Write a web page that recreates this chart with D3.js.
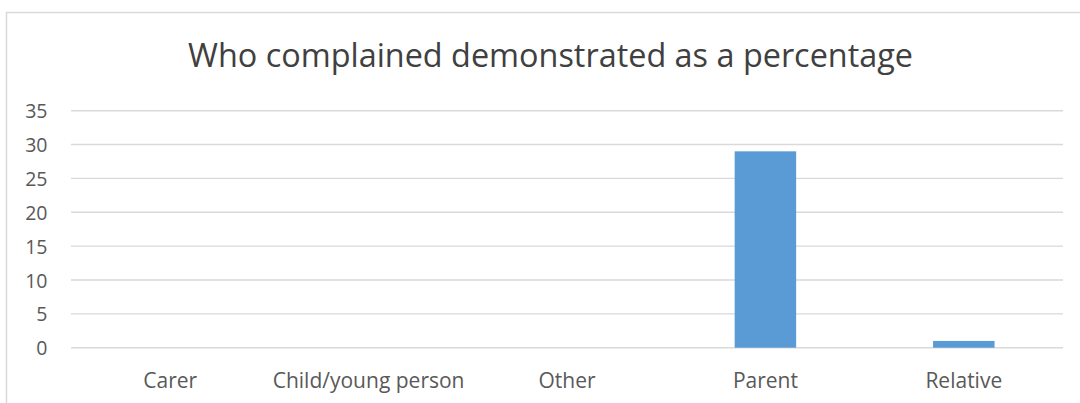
<!DOCTYPE html>
<html>
<head>
<meta charset="utf-8">
<script src="https://cdn.jsdelivr.net/npm/d3@7"></script>
<style>
  html, body { margin: 0; padding: 0; background: #fff; }
  svg { display: block; }
  text { font-family: "Open Sans", "Noto Sans", sans-serif; }
</style>
</head>
<body>
<svg id="chart" width="1080" height="403"></svg>
<script>
// Complainant groups and their share of complaints (%)
const categories = ["Carer", "Child/young person", "Other", "Parent", "Relative"];
const percentages = [0, 0, 0, 29, 1];
const yTicks = [0, 5, 10, 15, 20, 25, 30, 35];
const chartTitle = "Who complained demonstrated as a percentage";

const width = 1080, height = 403;
const plot = { left: 71, right: 1063, top: 110.7, bottom: 347.7 };

const svg = d3.select("#chart");

// chart area frame (left and top edges visible)
svg.append("path")
  .attr("d", `M6.5,${height} V12.5 H${width}`)
  .attr("fill", "none")
  .attr("stroke", "#d9d9d9")
  .attr("stroke-width", 1.5);

const x = d3.scaleBand()
  .domain(categories)
  .range([plot.left, plot.right])
  .paddingInner(0.69)
  .paddingOuter(0.345);

const y = d3.scaleLinear()
  .domain([0, 35])
  .range([plot.bottom, plot.top]);

// horizontal gridlines
svg.append("g")
  .selectAll("line")
  .data(yTicks)
  .join("line")
  .attr("x1", plot.left)
  .attr("x2", plot.right)
  .attr("y1", d => y(d))
  .attr("y2", d => y(d))
  .attr("stroke", "#d9d9d9")
  .attr("stroke-width", 1.4);

// y axis labels
const yAxis = d3.axisLeft(y).tickValues(yTicks).tickSize(0).tickPadding(0);
const gy = svg.append("g")
  .attr("transform", "translate(47.5,0)")
  .call(yAxis);
gy.select(".domain").remove();
gy.selectAll("text")
  .attr("fill", "#595959")
  .attr("font-size", 19.5)
  .attr("font-family", "'Open Sans', sans-serif")
  .attr("dy", "0.36em");

// bars
svg.append("g")
  .selectAll("rect")
  .data(categories.map((c, i) => ({ c, v: percentages[i] })).filter(d => d.v > 0))
  .join("rect")
  .attr("x", d => x(d.c))
  .attr("width", x.bandwidth())
  .attr("y", d => y(d.v))
  .attr("height", d => y(0) - y(d.v))
  .attr("fill", "#5b9bd5");

// category labels
const xAxis = d3.axisBottom(x).tickSize(0).tickPadding(0);
const gx = svg.append("g")
  .attr("transform", "translate(0,388)")
  .call(xAxis);
gx.select(".domain").remove();
gx.selectAll("text")
  .attr("fill", "#595959")
  .attr("font-size", 21)
  .attr("font-family", "'Open Sans', sans-serif")
  .attr("dy", 0);

// title
svg.append("text")
  .attr("x", 550.5)
  .attr("y", 67)
  .attr("text-anchor", "middle")
  .attr("font-size", 32.4)
  .attr("fill", "#404040")
  .text(chartTitle);
</script>
</body>
</html>
